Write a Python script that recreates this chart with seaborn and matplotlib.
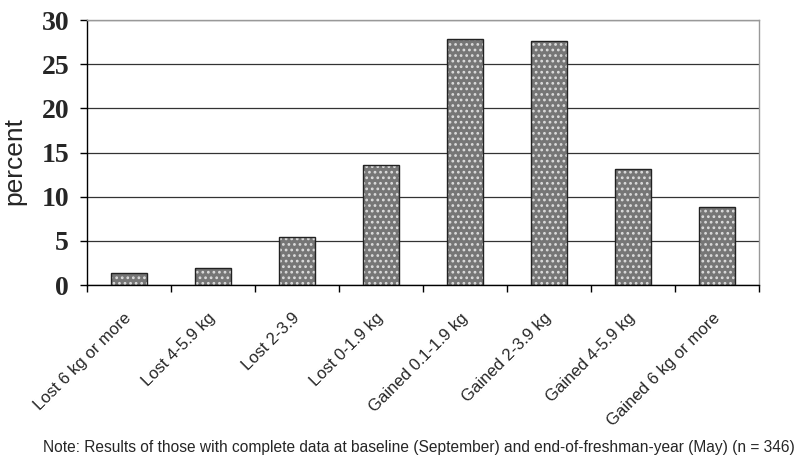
import matplotlib
matplotlib.use("Agg")
import matplotlib.pyplot as plt
import matplotlib.transforms as mtransforms
import seaborn as sns
import pandas as pd
import numpy as np

categories = ["Lost 6 kg or more", "Lost 4-5.9 kg", "Lost 2-3.9", "Lost 0-1.9 kg",
              "Gained 0.1-1.9 kg", "Gained 2-3.9 kg", "Gained 4-5.9 kg", "Gained 6 kg or more"]
percent = [1.4, 2.0, 5.5, 13.6, 27.9, 27.6, 13.2, 8.9]
yticks = [0, 5, 10, 15, 20, 25, 30]
note = "Note: Results of those with complete data at baseline (September) and end-of-freshman-year (May) (n = 346)"

sns.set_theme(style="white")
plt.rcParams["font.family"] = ["Liberation Sans", "DejaVu Sans"]
plt.rcParams["hatch.linewidth"] = 1.2

df = pd.DataFrame({"cat": categories, "pct": percent})

fig = plt.figure(figsize=(8, 4.66), dpi=100)
ax = fig.add_axes([0.109, 0.388, 0.840, 0.569])

# base gray bars
sns.barplot(data=df, x="cat", y="pct", ax=ax, color="#767676", saturation=1,
            width=0.43, linewidth=0, zorder=2)
# dotted hatch overlay
sns.barplot(data=df, x="cat", y="pct", ax=ax, fill=False, width=0.43,
            linewidth=0, zorder=3, edgecolor="#dcdcdc")
n = len(categories)
for p in ax.patches[n:]:
    p.set_hatch("...")
    p.set_linewidth(0)
# outline
sns.barplot(data=df, x="cat", y="pct", ax=ax, fill=False, width=0.43,
            linewidth=1.0, edgecolor="#222222", zorder=4)

ax.set_ylim(0, 30)
ax.set_xlim(-0.5, n - 0.5)
ax.set_yticks(yticks)
ax.set_yticklabels([str(v) for v in yticks], fontfamily="Liberation Serif",
                   fontweight="bold", fontsize=20)
ax.yaxis.grid(True, color="#333333", linewidth=0.9, zorder=0)
ax.set_axisbelow(True)

ax.set_xticks(np.arange(n))
ax.set_xticklabels(categories, rotation=45, ha="right", va="center",
                   rotation_mode="anchor", fontsize=12)
shift = mtransforms.ScaledTranslation(-8 / 100, 0, fig.dpi_scale_trans)
for lab in ax.get_xticklabels():
    lab.set_transform(lab.get_transform() + shift)
ax.set_xticks(np.arange(n + 1) - 0.5, minor=True)
ax.tick_params(axis="x", which="major", length=0, pad=22)
ax.tick_params(axis="x", which="minor", length=5, width=1, color="black", direction="out", bottom=True)
ax.tick_params(axis="y", length=5, width=1, color="black", direction="out", left=True, pad=8)

ax.set_xlabel("")
ax.set_ylabel("percent", fontsize=19)
ax.yaxis.set_label_coords(-0.091, 0.468)

for s in ["left", "bottom"]:
    ax.spines[s].set_color("black")
    ax.spines[s].set_linewidth(1)
for s in ["top", "right"]:
    ax.spines[s].set_color("#999999")
    ax.spines[s].set_linewidth(1)

fig.text(0.524, 0.04, note, ha="center", va="center", fontsize=11.2)

fig.savefig("out.png", dpi=100)
